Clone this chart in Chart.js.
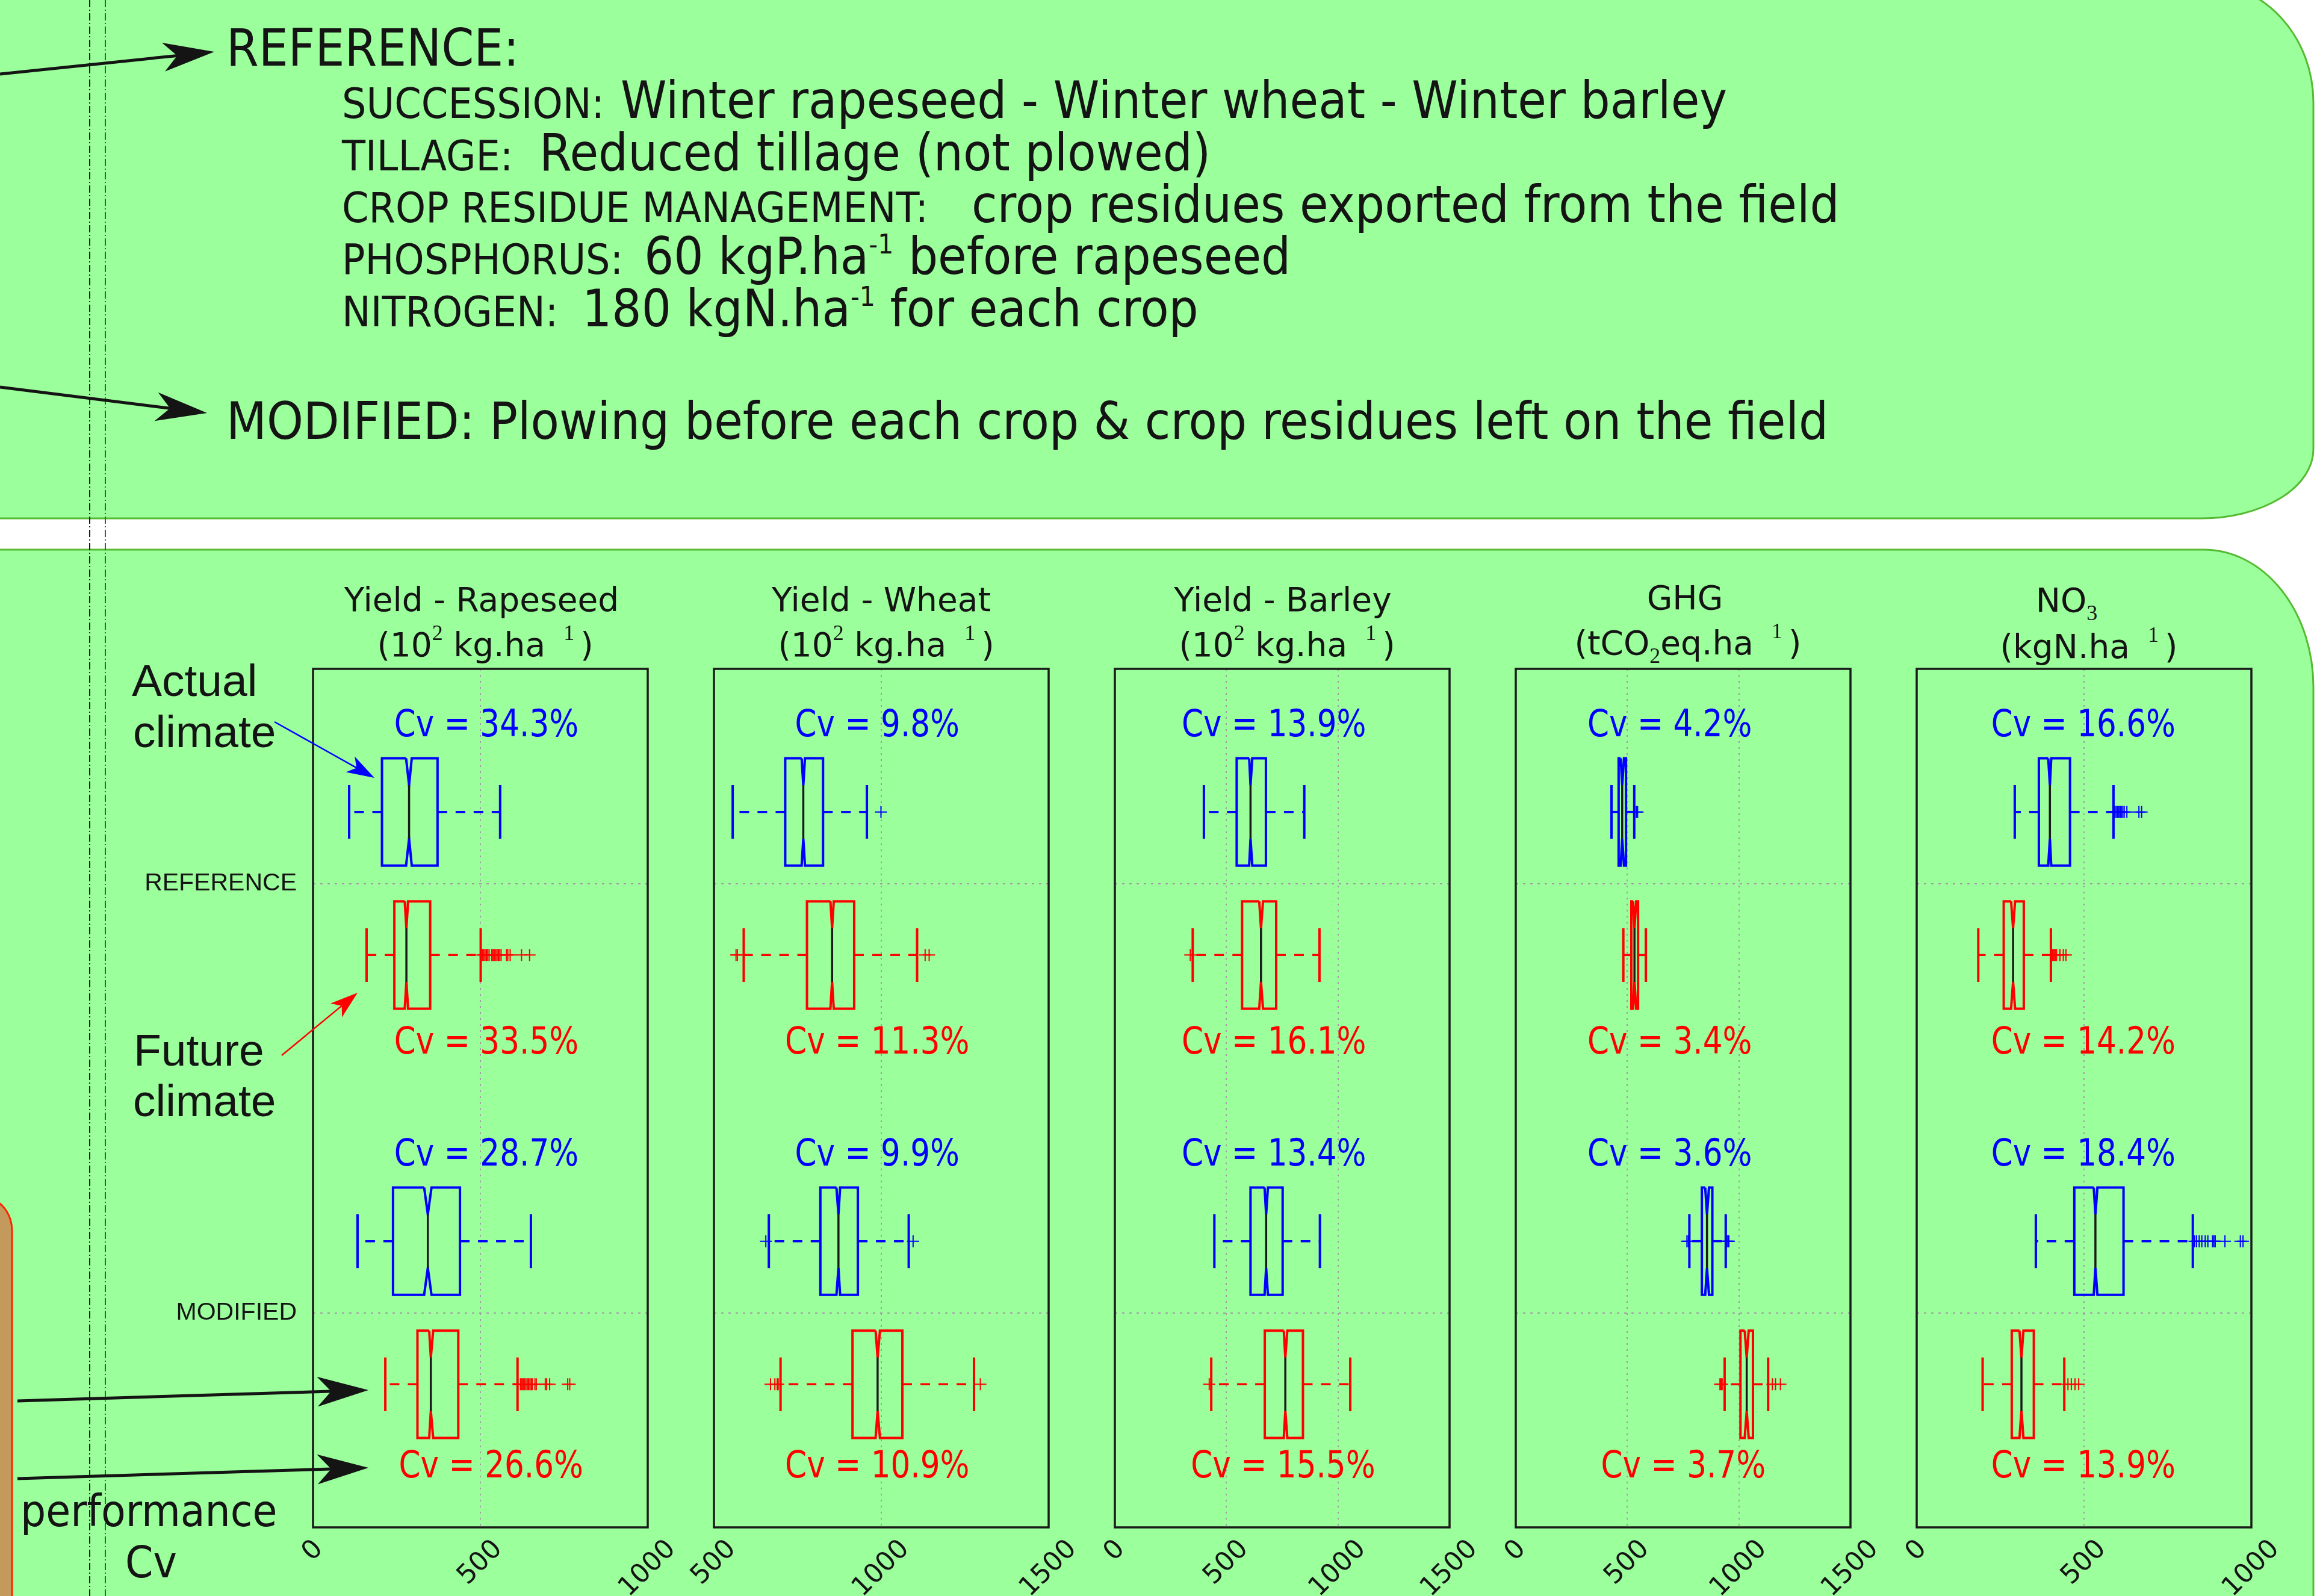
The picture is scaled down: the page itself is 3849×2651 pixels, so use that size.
<!DOCTYPE html>
<html><head><meta charset="utf-8"><title>Crop performance boxplots</title>
<script src="https://cdn.jsdelivr.net/npm/chart.js@4.4.1/dist/chart.umd.min.js"></script>
<style>
html,body{margin:0;padding:0;background:#ffffff;}
#stage{position:relative;width:3849px;height:2651px;overflow:hidden;background:#fff;}
#bg,#fg{position:absolute;left:0;top:0;}
#bg{z-index:0;}
#fg{z-index:5;}
canvas{position:absolute;z-index:2;}
.t{position:absolute;white-space:pre;line-height:1;color:#141414;z-index:3;}
.dc{font-family:"DejaVu Sans",sans-serif;transform:scaleX(0.912);transform-origin:0 0;}
.dj{font-family:"DejaVu Sans",sans-serif;}
.ls{font-family:"Liberation Sans",Arial,sans-serif;}
.tsup,.tsub{font-family:"Liberation Serif","DejaVu Serif",serif;font-size:36px;position:relative;}
.tsup{top:-27px;}
.tsub{top:14px;}
.psup{font-size:45px;position:relative;top:-34px;}
</style></head><body>
<div id="stage">
<svg id="bg" width="3849" height="2651" viewBox="0 0 3849 2651">
  <rect x="0" y="0" width="3849" height="2651" fill="#ffffff"/>
  <path d="M -100 -30 H 3657 A 186 200 0 0 1 3843 170 V 746 A 186 115 0 0 1 3657 861 H -100 Z" fill="#9bff9b" stroke="#55bb33" stroke-width="3"/>
  <path d="M -100 913 H 3661 A 182 228 0 0 1 3843 1141 V 2760 H -100 Z" fill="#9bff9b" stroke="#55bb33" stroke-width="3"/>
  <path d="M -300 1990 H -25 A 45 55 0 0 1 20 2045 V 2760 H -300 Z" fill="#c49a5c" stroke="#ff2200" stroke-width="3"/>
  <line x1="149" y1="0" x2="149" y2="2651" stroke="#1a1a1a" stroke-width="2" stroke-dasharray="12 4 2 4"/>
  <line x1="175" y1="0" x2="175" y2="2651" stroke="#2f6b2f" stroke-width="2" stroke-dasharray="12 4 2 4"/>
</svg>
<svg id="fg" width="3849" height="2651" viewBox="0 0 3849 2651"></svg>
</div>
<script>
// ===================== DATA =====================
const boxGroups = ['REFERENCE - actual climate', 'REFERENCE - future climate', 'MODIFIED - actual climate', 'MODIFIED - future climate'];
const managementLabels = ['REFERENCE', 'MODIFIED'];
const panelTitles = ['Yield - Rapeseed', 'Yield - Wheat', 'Yield - Barley', 'GHG', 'NO<span class="tsub">3</span>'];
const panelUnits = [
  '(10<span class="tsup">2</span> kg.ha<span class="tsup" style="margin-left:30px">1</span><span style="margin-left:10px">)</span>',
  '(10<span class="tsup">2</span> kg.ha<span class="tsup" style="margin-left:30px">1</span><span style="margin-left:10px">)</span>',
  '(10<span class="tsup">2</span> kg.ha<span class="tsup" style="margin-left:30px">1</span><span style="margin-left:10px">)</span>',
  '(tCO<span class="tsub">2</span>eq.ha<span class="tsup" style="margin-left:30px">1</span><span style="margin-left:10px">)</span>',
  '(kgN.ha<span class="tsup" style="margin-left:30px">1</span><span style="margin-left:10px">)</span>'
];

// Yield - Rapeseed
const rapeseedTicks = [0, 500, 1000];
const rapeseedWhiskerLow = [108, 160, 133, 216];
const rapeseedQ1 = [206, 243, 239, 312];
const rapeseedNotchLow = [278, 274, 332, 347];
const rapeseedMedian = [287, 279, 343, 352];
const rapeseedNotchHigh = [295, 284, 354, 359];
const rapeseedQ3 = [372, 350, 439, 434];
const rapeseedWhiskerHigh = [559, 501, 651, 611];
const rapeseedOutliers = [[], [506, 510, 514, 518, 522, 526, 534, 538, 542, 546, 550, 554, 558, 562, 578, 582, 589, 623, 647], [], [620, 624, 628, 632, 636, 640, 644, 648, 652, 655, 663, 667, 694, 698, 707, 761, 767]];
const rapeseedCv = [34.3, 33.5, 28.7, 26.6];

// Yield - Wheat
const wheatTicks = [500, 1000, 1500];
const wheatWhiskerLow = [556, 589, 664, 699];
const wheatQ1 = [713, 778, 818, 914];
const wheatNotchLow = [762, 848, 866, 983];
const wheatMedian = [767, 853, 872, 989];
const wheatNotchHigh = [772, 858, 877, 996];
const wheatQ3 = [826, 919, 930, 1063];
const wheatWhiskerHigh = [957, 1107, 1082, 1277];
const wheatOutliers = [[999], [566, 570, 1131, 1143], [655, 1095], [669, 682, 689, 692, 1296]];
const wheatCv = [9.8, 11.3, 9.9, 10.9];

// Yield - Barley
const barleyTicks = [0, 500, 1000, 1500];
const barleyWhiskerLow = [399, 349, 446, 432];
const barleyQ1 = [546, 570, 608, 672];
const barleyNotchLow = [602, 647, 671, 757];
const barleyMedian = [608, 655, 678, 764];
const barleyNotchHigh = [616, 664, 686, 773];
const barleyQ3 = [677, 723, 752, 843];
const barleyWhiskerHigh = [849, 917, 919, 1055];
const barleyOutliers = [[], [338], [], [423]];
const barleyCv = [13.9, 16.1, 13.4, 15.5];

// GHG
const ghgTicks = [0, 500, 1000, 1500];
const ghgWhiskerLow = [429, 482, 778, 936];
const ghgQ1 = [461, 518, 834, 1007];
const ghgNotchLow = [470, 526, 849, 1026];
const ghgMedian = [477, 532, 857, 1035];
const ghgNotchHigh = [485, 540, 866, 1044];
const ghgQ3 = [494, 548, 881, 1063];
const ghgWhiskerHigh = [531, 583, 941, 1131];
const ghgOutliers = [[541, 546], [], [767, 773, 946, 951, 955], [915, 920, 925, 1150, 1164, 1186]];
const ghgCv = [4.2, 3.4, 3.6, 3.7];

// NO3
const no3Ticks = [0, 500, 1000];
const no3WhiskerLow = [293, 184, 356, 197];
const no3Q1 = [365, 260, 471, 284];
const no3NotchLow = [393, 282, 529, 307];
const no3Median = [398, 288, 534, 313];
const no3NotchHigh = [402, 294, 540, 319];
const no3Q3 = [458, 320, 618, 350];
const no3WhiskerHigh = [588, 401, 825, 441];
const no3Outliers = [[592, 596, 600, 604, 608, 612, 616, 620, 628, 664, 672], [406, 410, 414, 418, 428, 438, 446], [830, 836, 844, 852, 862, 870, 884, 888, 892, 921, 967, 975], [452, 462, 473, 484]];
const no3Cv = [16.6, 14.2, 18.4, 13.9];

// ===================== TABLE BUILT FROM THE ARRAYS =====================
const panels = [
  {ticks: rapeseedTicks, wl: rapeseedWhiskerLow, q1: rapeseedQ1, nl: rapeseedNotchLow, md: rapeseedMedian, nh: rapeseedNotchHigh, q3: rapeseedQ3, wh: rapeseedWhiskerHigh, out: rapeseedOutliers, cv: rapeseedCv},
  {ticks: wheatTicks, wl: wheatWhiskerLow, q1: wheatQ1, nl: wheatNotchLow, md: wheatMedian, nh: wheatNotchHigh, q3: wheatQ3, wh: wheatWhiskerHigh, out: wheatOutliers, cv: wheatCv},
  {ticks: barleyTicks, wl: barleyWhiskerLow, q1: barleyQ1, nl: barleyNotchLow, md: barleyMedian, nh: barleyNotchHigh, q3: barleyQ3, wh: barleyWhiskerHigh, out: barleyOutliers, cv: barleyCv},
  {ticks: ghgTicks, wl: ghgWhiskerLow, q1: ghgQ1, nl: ghgNotchLow, md: ghgMedian, nh: ghgNotchHigh, q3: ghgQ3, wh: ghgWhiskerHigh, out: ghgOutliers, cv: ghgCv},
  {ticks: no3Ticks, wl: no3WhiskerLow, q1: no3Q1, nl: no3NotchLow, md: no3Median, nh: no3NotchHigh, q3: no3Q3, wh: no3WhiskerHigh, out: no3Outliers, cv: no3Cv}
];

// ===================== LAYOUT & STYLE =====================
const BLUE = '#0000ff', RED = '#ff0000', MEDIAN_COLOR = '#1a1a1a', INK = '#141414';
const seriesColors = [BLUE, RED, BLUE, RED];
const boxSlots = [1, 2, 4, 5];          // y-axis slot of each box (axis runs 0..6, top to bottom)
const boxHalf = 0.375, capHalf = 0.1875;
const boxLefts = [520, 1186, 1852, 2518, 3184];
const boxW = 556, boxTop = 1111, boxH = 1426;
const cvRowY = [0.47, 2.69, 3.47, 5.65];
const cvLabelX = [[518, 518, 518, 532], [988, 988, 988, 988], [713, 713, 713, 754], [690, 690, 690, 751], [498, 498, 498, 498]];
const titleCenters = [[800, 806], [1464, 1472], [2131, 2138], [2799, 2804], [3433, 3470]];
const titleBase = [[1016, 1091], [1016, 1091], [1016, 1091], [1013, 1088], [1017, 1094]];

const stage = document.getElementById('stage');

function txt(html, x, base, size, cls, center) {
  const d = document.createElement('div');
  d.className = 't ' + cls;
  d.innerHTML = html;
  d.style.fontSize = size + 'px';
  d.style.top = (base - 0.846 * size) + 'px';
  d.style.left = x + 'px';
  if (center) d.style.transform = 'translateX(-50%)';
  stage.appendChild(d);
  return d;
}

// ---- header panel text ----
txt('REFERENCE:', 376, 109, 85, 'dc');
const headLabels = ['SUCCESSION:', 'TILLAGE:', 'CROP RESIDUE MANAGEMENT:', 'PHOSPHORUS:', 'NITROGEN:'];
const headValues = ['Winter rapeseed - Winter wheat - Winter barley', 'Reduced tillage (not plowed)', 'crop residues exported from the field',
  '60 kgP.ha<span class="psup">-1</span> before rapeseed', '180 kgN.ha<span class="psup">-1</span> for each crop'];
const headBase = [196, 283, 369, 455, 542];
const headValueX = [1031, 896, 1614, 1070, 967];
headLabels.forEach((l, i) => {
  txt(l, 568, headBase[i], 70, 'dc');
  txt(headValues[i], headValueX[i], headBase[i], 85, 'dc');
});
txt('MODIFIED: Plowing before each crop &amp; crop residues left on the field', 376, 729, 85, 'dc');

// ---- left annotations ----
txt('Actual', 219, 1156, 75, 'ls');
txt('climate', 221, 1241, 75, 'ls');
txt('Future', 222, 1770, 75, 'ls');
txt('climate', 221, 1854, 75, 'ls');
txt('performance', 34, 2535, 73, 'dc');
txt('Cv', 208, 2620, 73, 'dc');

// ---- panel titles ----
panels.forEach((p, i) => {
  txt(panelTitles[i], titleCenters[i][0], titleBase[i][0], 55, 'dj', true);
  txt(panelUnits[i], titleCenters[i][1], titleBase[i][1], 55, 'dj', true);
});

// ---- plugins ----
const framePlugin = {
  id: 'frame',
  afterDatasetsDraw(chart) {
    const {ctx, chartArea: a} = chart;
    ctx.save();
    ctx.strokeStyle = '#1a1a1a';
    ctx.lineWidth = 3.5;
    ctx.strokeRect(a.left, a.top, a.right - a.left, a.bottom - a.top);
    ctx.restore();
  }
};
const rotatedTicksPlugin = {
  id: 'rotTicks',
  afterDraw(chart) {
    const {ctx, chartArea} = chart;
    const xs = chart.scales.x;
    const size = 44;
    ctx.save();
    ctx.font = size + 'px "DejaVu Sans"';
    ctx.fillStyle = INK;
    ctx.textAlign = 'center';
    ctx.textBaseline = 'middle';
    const h = 0.73 * size;
    xs.ticks.forEach(t => {
      const px = xs.getPixelForValue(t.value);
      const label = String(t.value);
      const w = ctx.measureText(label).width;
      const bb = (w + h) / Math.SQRT2;
      const cy = chartArea.bottom + 18 + bb / 2;
      ctx.save();
      ctx.translate(px, cy);
      ctx.rotate(-Math.PI / 4);
      ctx.fillText(label, 0, 0);
      ctx.restore();
    });
    ctx.restore();
  }
};
function cvPlugin(p, pi) {
  return {
    id: 'cv' + pi,
    afterDatasetsDraw(chart) {
      const {ctx} = chart;
      const xs = chart.scales.x, ys = chart.scales.y;
      ctx.save();
      ctx.font = '57px "DejaVu Sans"';
      ctx.textAlign = 'center';
      ctx.textBaseline = 'alphabetic';
      p.cv.forEach((v, i) => {
        ctx.save();
        ctx.translate(xs.getPixelForValue(cvLabelX[pi][i]), ys.getPixelForValue(cvRowY[i]));
        ctx.scale(0.905, 1.08);
        ctx.fillStyle = seriesColors[i];
        ctx.fillText('Cv = ' + v.toFixed(1) + '%', 0, 0);
        ctx.restore();
      });
      ctx.restore();
    }
  };
}

// ---- charts ----
panels.forEach((p, pi) => {
  const yAxisW = pi === 0 ? 300 : 0;
  const padL = pi === 0 ? 30 : 60, padR = 70, padT = 60, padB = 114;
  const cw = padL + yAxisW + boxW + padR, ch = padT + boxH + padB;
  const cv = document.createElement('canvas');
  cv.width = cw; cv.height = ch;
  cv.style.width = cw + 'px'; cv.style.height = ch + 'px';
  cv.style.left = (boxLefts[pi] - padL - yAxisW) + 'px';
  cv.style.top = (boxTop - padT) + 'px';
  stage.appendChild(cv);

  const datasets = [];
  const line = (data, color, width, order, dash) => ({
    data, borderColor: color, backgroundColor: color, borderWidth: width, order,
    showLine: true, pointRadius: 0, pointHoverRadius: 0, fill: false,
    borderDash: dash || [], borderJoinStyle: 'miter', borderCapStyle: 'butt'
  });
  for (let i = 0; i < 4; i++) {
    const y = boxSlots[i], c = seriesColors[i];
    const top = y - boxHalf, bot = y + boxHalf;
    datasets.push(Object.assign(line([{x: p.md[i], y: y - capHalf}, {x: p.md[i], y: y + capHalf}], MEDIAN_COLOR, 3.5, 0), {label: boxGroups[i] + ' median'}));
    datasets.push(Object.assign(line([
      {x: p.nl[i], y: top}, {x: p.q1[i], y: top}, {x: p.q1[i], y: bot}, {x: p.nl[i], y: bot},
      {x: p.md[i], y: y + capHalf}, {x: p.nh[i], y: bot}, {x: p.q3[i], y: bot}, {x: p.q3[i], y: top},
      {x: p.nh[i], y: top}, {x: p.md[i], y: y - capHalf}, {x: p.nl[i], y: top}
    ], c, 4, 1), {label: boxGroups[i] + ' box'}));
    datasets.push(line([{x: p.q1[i], y}, {x: p.wl[i], y}], c, 3.5, 2, [16, 14]));
    datasets.push(line([{x: p.q3[i], y}, {x: p.wh[i], y}], c, 3.5, 2, [16, 14]));
    datasets.push(line([{x: p.wl[i], y: y - capHalf}, {x: p.wl[i], y: y + capHalf}], c, 4, 2));
    datasets.push(line([{x: p.wh[i], y: y - capHalf}, {x: p.wh[i], y: y + capHalf}], c, 4, 2));
    datasets.push({
      label: boxGroups[i] + ' outliers', order: 3,
      data: p.out[i].map(v => ({x: v, y})),
      showLine: false, pointStyle: 'cross', pointRadius: 10, pointHoverRadius: 10,
      pointBorderWidth: 2, borderColor: c, backgroundColor: c
    });
  }

  new Chart(cv, {
    type: 'scatter',
    data: {datasets},
    options: {
      responsive: false, animation: false, events: [],
      layout: {padding: {left: padL, right: padR, top: padT, bottom: padB}},
      plugins: {legend: {display: false}, tooltip: {enabled: false}, title: {display: false}},
      scales: {
        x: {
          type: 'linear', position: 'bottom',
          min: p.ticks[0], max: p.ticks[p.ticks.length - 1],
          afterBuildTicks: s => { s.ticks = p.ticks.map(v => ({value: v})); },
          ticks: {display: false},
          grid: {color: '#a39aa6', lineWidth: 2, drawTicks: false},
          border: {display: false, dash: [3, 7]},
          afterFit: s => { s.height = 0; }
        },
        y: {
          type: 'linear', position: 'left', min: 0, max: 6, reverse: true,
          afterBuildTicks: s => { s.ticks = [{value: 1.5}, {value: 4.5}]; },
          ticks: {
            display: pi === 0, padding: 27, color: INK,
            font: {family: '"Liberation Sans", Arial, sans-serif', size: 41},
            callback: (v, idx) => managementLabels[idx]
          },
          grid: {color: '#a39aa6', lineWidth: 2, drawTicks: false},
          border: {display: false, dash: [4, 8]},
          afterFit: s => { s.width = yAxisW; }
        }
      }
    },
    plugins: [framePlugin, cvPlugin(p, pi), rotatedTicksPlugin]
  });
});

// ---- arrows (annotation graphics) ----
const fg = document.getElementById('fg');
const NS = 'http://www.w3.org/2000/svg';
function arrow(x1, y1, x2, y2, L, W, N, color, lw) {
  const dx = x2 - x1, dy = y2 - y1, len = Math.hypot(dx, dy);
  const ux = dx / len, uy = dy / len, px = -uy, py = ux;
  const bx = x2 - ux * L, by = y2 - uy * L, nx = x2 - ux * N, ny = y2 - uy * N;
  const ln = document.createElementNS(NS, 'line');
  ln.setAttribute('x1', x1); ln.setAttribute('y1', y1);
  ln.setAttribute('x2', nx); ln.setAttribute('y2', ny);
  ln.setAttribute('stroke', color); ln.setAttribute('stroke-width', lw);
  fg.appendChild(ln);
  const pg = document.createElementNS(NS, 'polygon');
  pg.setAttribute('points', [x2, y2, bx + px * W, by + py * W, nx, ny, bx - px * W, by - py * W].join(' '));
  pg.setAttribute('fill', color);
  fg.appendChild(pg);
}
arrow(0, 123, 356, 86, 85, 24, 62, INK, 5);
arrow(0, 643, 344, 686, 85, 24, 62, INK, 5);
arrow(29, 2327, 612, 2309, 85, 25, 62, INK, 5);
arrow(29, 2456, 612, 2438, 85, 25, 62, INK, 5);
arrow(456, 1199, 622, 1292, 46, 15, 34, BLUE, 2.5);
arrow(468, 1753, 594, 1649, 46, 15, 34, RED, 2.5);
</script>
</body></html>
